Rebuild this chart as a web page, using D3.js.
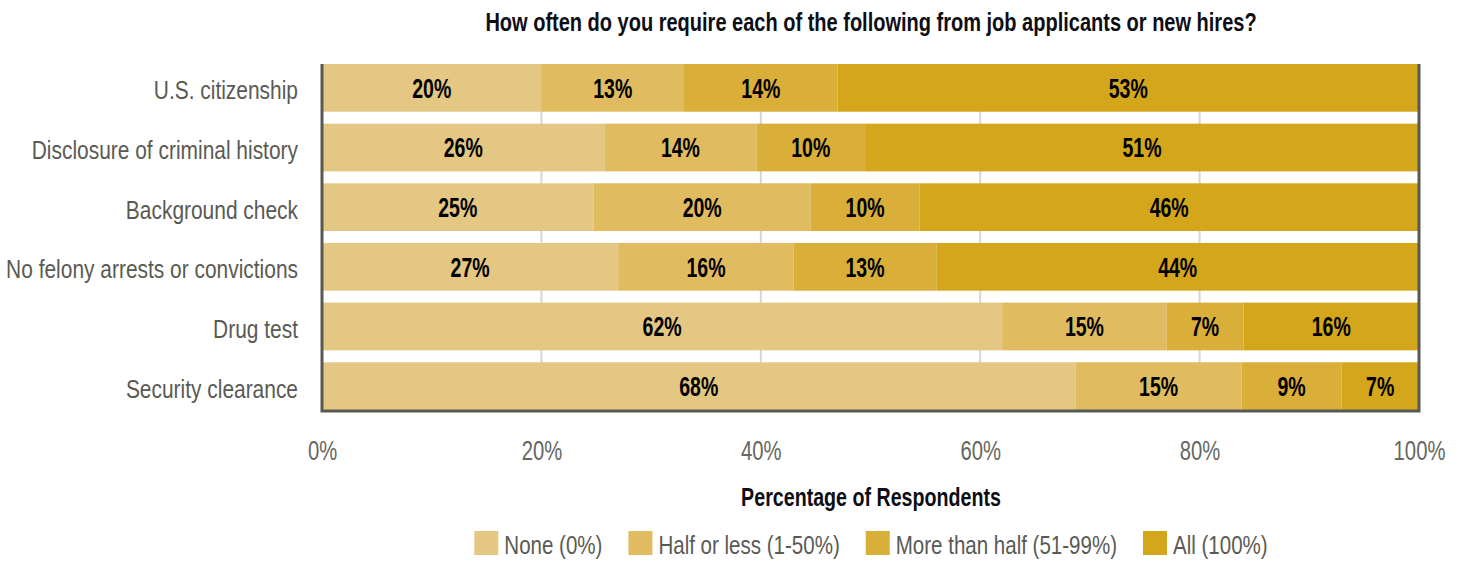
<!DOCTYPE html>
<html>
<head>
<meta charset="utf-8">
<script src="https://cdn.jsdelivr.net/npm/d3@7"></script>
<style>
  html, body { margin: 0; padding: 0; background: #fff; }
  svg { display: block; }
  text { font-family: "Liberation Sans", Arial, sans-serif; }
</style>
</head>
<body>
<svg id="chart" width="1463" height="562"></svg>
<script>
// Survey items (rows, top to bottom)
const categories = [
  "U.S. citizenship",
  "Disclosure of criminal history",
  "Background check",
  "No felony arrests or convictions",
  "Drug test",
  "Security clearance"
];

// Response groups (stack order, left to right)
const seriesNames = ["None (0%)", "Half or less (1-50%)", "More than half (51-99%)", "All (100%)"];

// Percent of respondents for each group, one entry per category
const noneValues         = [20, 26, 25, 27, 62, 68];
const halfOrLessValues   = [13, 14, 20, 16, 15, 15];
const moreThanHalfValues = [14, 10, 10, 13, 7, 9];
const allValues          = [53, 51, 46, 44, 16, 7];

const tickValues = [0, 20, 40, 60, 80, 100];
const tickLabels = ["0%", "20%", "40%", "60%", "80%", "100%"];

const colors = ["#e4c783", "#e0bb60", "#d9af3a", "#d4a61b"];

const titleText = "How often do you require each of the following from job applicants or new hires?";
const xAxisTitle = "Percentage of Respondents";

// Narrow letterforms: horizontal squeeze applied to every label
const condenseRegular = 0.805;
const condenseBold = 0.71;

// Build rows for the stack
const keys = ["none", "half", "more", "all"];
const seriesArrays = [noneValues, halfOrLessValues, moreThanHalfValues, allValues];
const rows = categories.map((c, i) => {
  const r = { category: c };
  keys.forEach((k, j) => r[k] = seriesArrays[j][i]);
  return r;
});

// Rows are shown as shares of 100%
const stacked = d3.stack().keys(keys).offset(d3.stackOffsetExpand)(rows);

const svg = d3.select("#chart");
const plot = { left: 322, right: 1419, top: 64, bottom: 411 };

const x = d3.scaleLinear().domain([0, 100]).range([plot.left, plot.right]);
const y = d3.scaleBand().domain(categories).range([plot.top, plot.bottom - 1]).paddingInner(0.2).paddingOuter(0);

// Places a text at (px, py) with a horizontal squeeze
function squeeze(sel, px, py, sx) {
  sel.attr("x", 0).attr("y", 0).attr("transform", `translate(${px},${py}) scale(${sx},1)`);
}

// Title
const title = svg.append("text")
  .attr("text-anchor", "middle")
  .attr("font-weight", "bold")
  .attr("font-size", 25)
  .attr("fill", "#0d0d14")
  .text(titleText);
squeeze(title, 871, 31, 772 / title.node().getComputedTextLength());

// Vertical gridlines
svg.append("g")
  .selectAll("line")
  .data(tickValues.slice(1, -1))
  .join("line")
  .attr("x1", d => x(d)).attr("x2", d => x(d))
  .attr("y1", plot.top).attr("y2", plot.bottom)
  .attr("stroke", "#d6d6d6")
  .attr("stroke-width", 2);

// Stacked bars
const layers = svg.append("g")
  .selectAll("g")
  .data(stacked)
  .join("g")
  .attr("fill", (d, i) => colors[i]);

layers.selectAll("rect")
  .data(d => d.map(s => ({ s, cat: s.data.category })))
  .join("rect")
  .attr("x", d => x(d.s[0] * 100))
  .attr("width", d => x(d.s[1] * 100) - x(d.s[0] * 100))
  .attr("y", d => y(d.cat))
  .attr("height", y.bandwidth());

// Value labels centred in each segment
svg.append("g")
  .selectAll("g")
  .data(stacked)
  .join("g")
  .selectAll("text")
  .data(d => d.map(s => ({ s, cat: s.data.category, v: s.data[d.key] })))
  .join("text")
  .attr("text-anchor", "middle")
  .attr("font-weight", "bold")
  .attr("font-size", 27.5)
  .attr("fill", "#000")
  .text(d => d.v + "%")
  .each(function (d) {
    squeeze(d3.select(this), x((d.s[0] + d.s[1]) / 2 * 100), y(d.cat) + y.bandwidth() / 2 + 9.8, condenseBold);
  });

// Frame: left, bottom and right edges
const frame = d3.path();
frame.moveTo(plot.left, plot.top);
frame.lineTo(plot.left, plot.bottom);
frame.lineTo(plot.right, plot.bottom);
frame.lineTo(plot.right, plot.top);
svg.append("path")
  .attr("d", frame.toString())
  .attr("fill", "none")
  .attr("stroke", "#595953")
  .attr("stroke-width", 3);

// Category axis
const yAxis = svg.append("g")
  .attr("transform", `translate(${plot.left},0)`)
  .call(d3.axisLeft(y).tickSize(0));
yAxis.select(".domain").remove();
yAxis.selectAll("text")
  .attr("font-size", 26)
  .attr("fill", "#5a5a54")
  .attr("dy", null)
  .each(function () { squeeze(d3.select(this), -24, 11.5, condenseRegular); });

// Percentage axis
const xAxis = svg.append("g")
  .attr("transform", `translate(0,${plot.bottom})`)
  .call(d3.axisBottom(x).tickValues(tickValues).tickFormat((d, i) => tickLabels[i]).tickSize(0));
xAxis.select(".domain").remove();
xAxis.selectAll("text")
  .attr("font-size", 27)
  .attr("fill", "#66665f")
  .attr("dy", null)
  .each(function () { squeeze(d3.select(this), 0, 49, 0.75); });

// Axis title
const axisTitle = svg.append("text")
  .attr("text-anchor", "middle")
  .attr("font-weight", "bold")
  .attr("font-size", 25)
  .attr("fill", "#0d0d14")
  .text(xAxisTitle);
squeeze(axisTitle, 871, 506, 260 / axisTitle.node().getComputedTextLength());

// Legend
const legend = svg.append("g");
const itemGap = 26, swatch = 24, swatchGap = 6;
let cursor = 0;
const items = seriesNames.map((name, i) => {
  const g = legend.append("g");
  g.append("rect").attr("width", swatch).attr("height", swatch).attr("y", -swatch).attr("fill", colors[i]);
  const t = g.append("text")
    .attr("font-size", 26)
    .attr("fill", "#5a5a54")
    .text(name);
  squeeze(t, swatch + swatchGap, -1, 0.79);
  const w = swatch + swatchGap + t.node().getComputedTextLength() * 0.79;
  const item = { g, offset: cursor };
  cursor += w + itemGap;
  return item;
});
const legendWidth = cursor - itemGap;
const legendStart = 871 - legendWidth / 2;
items.forEach(it => it.g.attr("transform", `translate(${legendStart + it.offset},555)`));
</script>
</body>
</html>
